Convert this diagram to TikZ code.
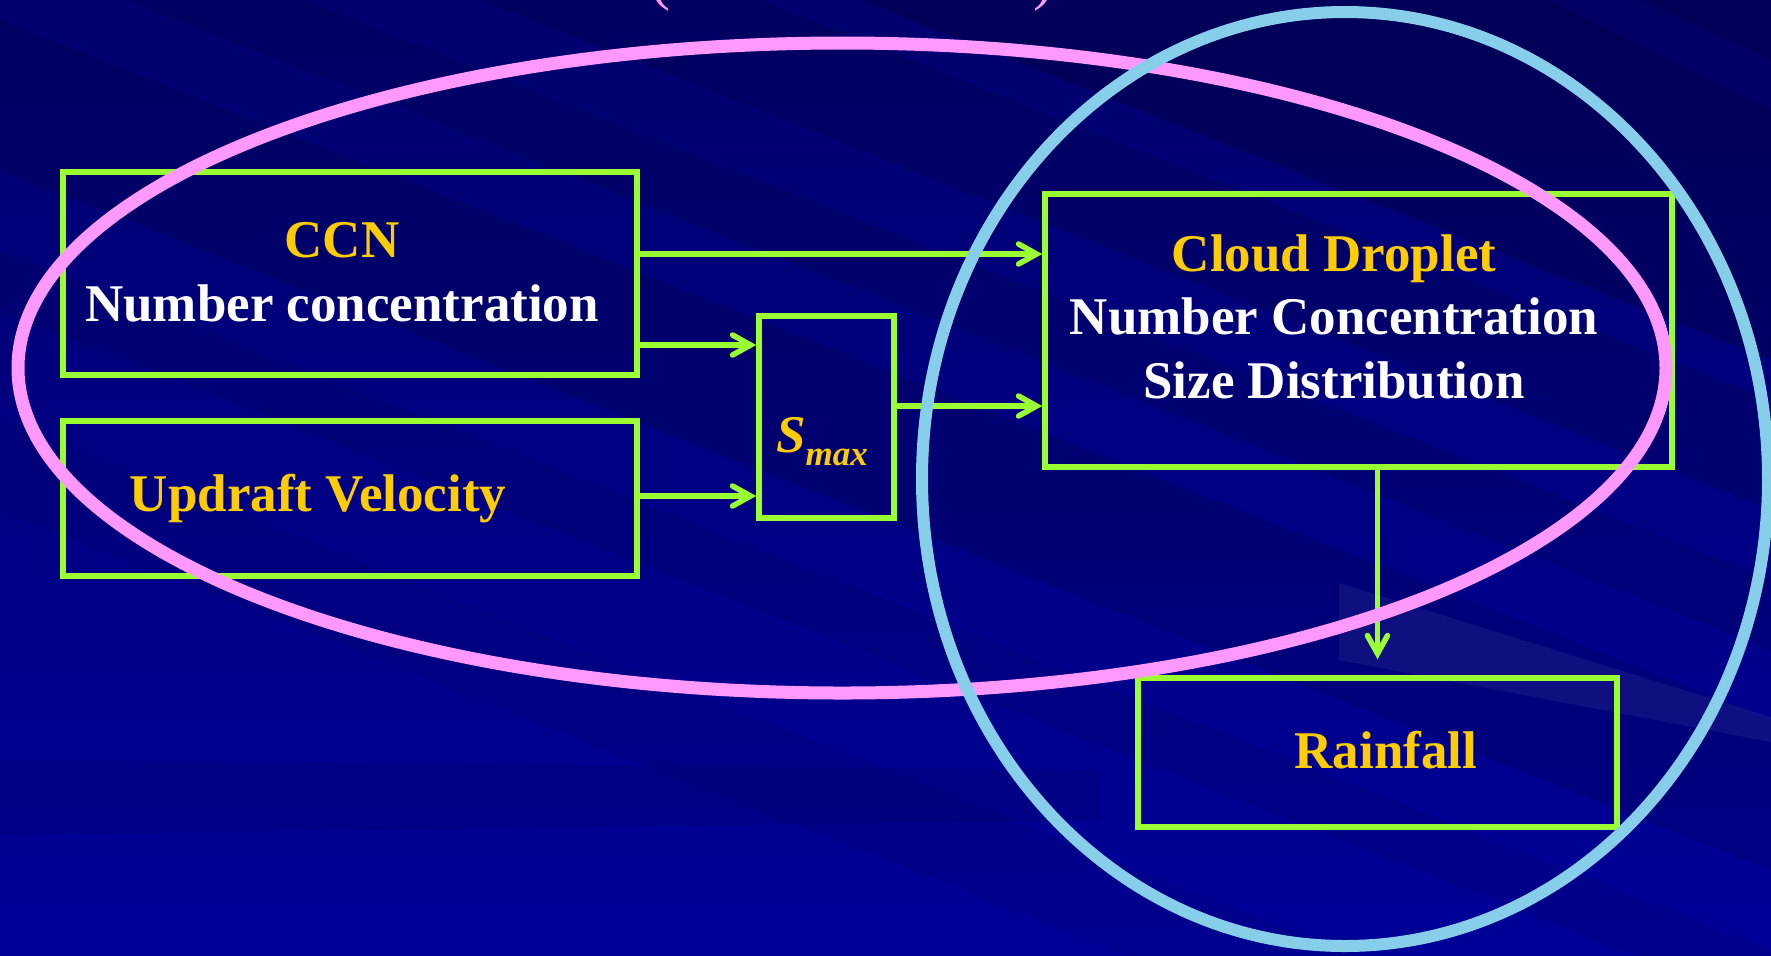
\documentclass[tikz,border=0pt]{standalone}
\usepackage{fontspec}
\setmainfont{Liberation Serif}
\usetikzlibrary{arrows.meta}

\definecolor{slidetop}{HTML}{00006E}
\definecolor{slidebottom}{HTML}{000098}
\definecolor{boxgreen}{HTML}{99FF33}
\definecolor{labelgold}{HTML}{FFCC00}
\definecolor{ringpink}{HTML}{FF99FF}
\definecolor{ringblue}{HTML}{87CEEB}

\newcommand{\boxfont}{\fontsize{26.5}{31.75}\selectfont\bfseries}

\begin{document}
\begin{tikzpicture}[x=0.5pt, y=-0.5pt,
  box/.style={draw=boxgreen, line width=2.75pt, inner sep=0pt},
  flow/.style={draw=boxgreen, line width=2.75pt, line cap=round,
    -{Straight Barb[length=9pt, width=10pt, line cap=round]}},
  lbl/.style={font=\boxfont, inner sep=0pt, anchor=base, text=white},
  gold/.style={lbl, text=labelgold}]

\useasboundingbox (0,0) rectangle (1771,955);

% slide background with diagonal streaks
\shade[top color=slidetop, bottom color=slidebottom] (0,0) rectangle (1771,955);
\foreach \y/\t/\o in {-760/420/.2, -300/110/.12, -120/70/.1, 20/150/.12, 250/60/.07, 420/90/.06}
  \fill[black, opacity=\o] (0,\y) -- (1771,\y+700) -- (1771,\y+700+\t) -- (0,\y+\t) -- cycle;
\fill[black, opacity=.08] (0,760) -- (1100,770) -- (1100,820) -- (0,835) -- cycle;
\fill[white, opacity=.06] (1339,583) -- (1771,717) -- (1771,742) -- (1339,660) -- cycle;
\fill[blue, opacity=.08] (1550,0) -- (1640,0) -- (1771,60) -- (1771,110) -- cycle;

% bottom of the title brackets
\node[text=ringpink, font=\fontsize{30}{36}\selectfont, inner sep=0pt, anchor=base] (titleopen) at (660,-2) {(};
\node[text=ringpink, font=\fontsize{30}{36}\selectfont, inner sep=0pt, anchor=base] (titleclose) at (1043,-2) {)};

% boxes
\node[box, minimum width=287pt, minimum height=101.5pt] (ccn) at (350,273.5) {};
\node[box, minimum width=287pt, minimum height=77.5pt] (updraft) at (350,498.5) {};
\node[box, minimum width=67.5pt, minimum height=101pt] (smax) at (826.5,417) {};
\node[box, minimum width=313.5pt, minimum height=136.5pt] (droplet) at (1358.5,330.5) {};
\node[box, minimum width=239.5pt, minimum height=74.5pt] (rain) at (1377.5,752.5) {};

% box texts
\node[gold] (ccnname) at (342,257) {CCN};
\node[lbl] (ccnnum) at (342,321) {Number concentration};
\node[gold] (updraftname) at (318,511) {Updraft Velocity};
\node[gold, font=\boxfont\itshape] (smaxname) at (822,452)
  {S\raisebox{-6.5pt}{\fontsize{17.5}{20}\selectfont max}};
\node[gold] (dropname) at (1334,271) {Cloud Droplet};
\node[lbl] (dropnum) at (1334,334) {Number Concentration};
\node[lbl] (dropsize) at (1334,398) {Size Distribution};
\node[gold] (rainname) at (1386,768) {Rainfall};

% connectors
\draw[flow] ([yshift=9.75pt]ccn.east) -- ([yshift=9.75pt]ccn.east -| droplet.west);
\draw[flow] ([yshift=-35.75pt]ccn.east) -- ([yshift=-35.75pt]ccn.east -| smax.west);
\draw[flow] ([yshift=1.25pt]updraft.east) -- ([yshift=1.25pt]updraft.east -| smax.west);
\draw[flow] ([yshift=5.5pt]smax.east) -- ([yshift=5.5pt]smax.east -| droplet.west);
\draw[flow] (droplet.south -| rain.north) -- ([yshift=8pt]rain.north);

% the two groupings
\draw[ringpink, line width=6.5pt] (842,368) ellipse [x radius=824, y radius=325];
\draw[ringblue, line width=6pt] (1345,479) ellipse [x radius=423, y radius=467];

\end{tikzpicture}
\end{document}
